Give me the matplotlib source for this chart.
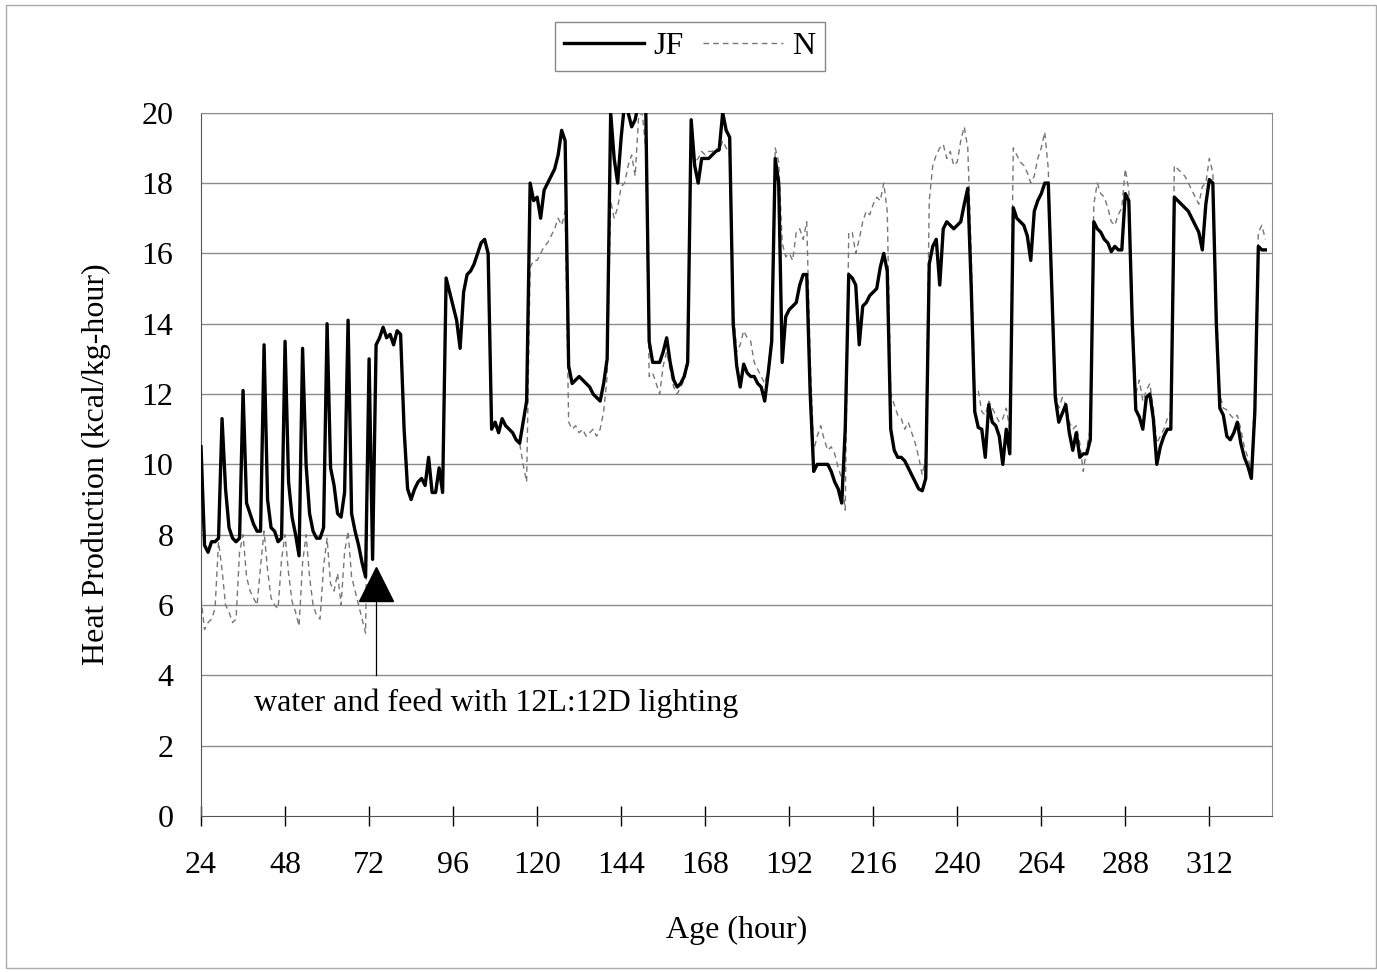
import numpy as np
import matplotlib.pyplot as plt
from matplotlib.patches import Rectangle

plt.rcParams['font.family'] = ['Liberation Serif', 'DejaVu Serif']

# hourly readings, age 24 h .. 328 h
hours = np.arange(24, 329)

jf = [10.5, 7.7, 7.5, 7.8, 7.8, 7.9, 11.3, 9.3, 8.2, 7.9, 7.8, 7.9,
      12.1, 8.9, 8.6, 8.3, 8.1, 8.1, 13.4, 9.0, 8.2, 8.1, 7.8, 7.9,
      13.5, 9.5, 8.5, 8.0, 7.4, 13.3, 10.0, 8.6, 8.1, 7.9, 7.9, 8.2,
      14.0, 9.9, 9.4, 8.6, 8.5, 9.2, 14.1, 8.6, 8.1, 7.7, 7.2, 6.8,
      13.0, 7.3, 13.4, 13.6, 13.9, 13.6, 13.7, 13.4, 13.8, 13.7, 11.0, 9.3,
      9.0, 9.3, 9.5, 9.6, 9.4, 10.2, 9.2, 9.2, 9.9, 9.2, 15.3, 14.9,
      14.5, 14.1, 13.3, 14.9, 15.4, 15.5, 15.7, 16.0, 16.3, 16.4, 16.0, 11.0,
      11.2, 10.9, 11.3, 11.1, 11.0, 10.9, 10.7, 10.6, 11.2, 11.8, 18.0, 17.5,
      17.6, 17.0, 17.8, 18.0, 18.2, 18.4, 18.8, 19.5, 19.2, 12.8, 12.3, 12.4,
      12.5, 12.4, 12.3, 12.2, 12.0, 11.9, 11.8, 12.3, 13.0, 20.0, 18.7, 18.0,
      19.3, 20.3, 20.0, 19.6, 19.8, 20.3, 20.3, 20.3, 13.5, 12.9, 12.9, 12.9,
      13.2, 13.6, 12.9, 12.4, 12.2, 12.3, 12.5, 12.9, 19.8, 18.5, 18.0, 18.7,
      18.7, 18.7, 18.8, 18.9, 18.95, 20.0, 19.5, 19.3, 14.0, 12.8, 12.2, 12.85,
      12.6, 12.5, 12.5, 12.3, 12.2, 11.8, 12.6, 13.5, 18.7, 18.0, 12.9, 14.2,
      14.4, 14.5, 14.6, 15.1, 15.4, 15.4, 12.0, 9.8, 10.0, 10.0, 10.0, 10.0,
      9.8, 9.5, 9.3, 8.9, 11.0, 15.4, 15.3, 15.1, 13.4, 14.5, 14.6, 14.8,
      14.9, 15.0, 15.6, 16.0, 15.5, 11.0, 10.4, 10.2, 10.2, 10.1, 9.9, 9.7,
      9.5, 9.3, 9.25, 9.6, 15.7, 16.2, 16.4, 15.1, 16.7, 16.9, 16.8, 16.7,
      16.8, 16.9, 17.4, 17.85, 15.0, 11.5, 11.05, 11.0, 10.2, 11.7, 11.2, 11.1,
      10.8, 10.0, 11.0, 10.3, 17.3, 17.0, 16.9, 16.8, 16.5, 15.8, 17.2, 17.5,
      17.7, 18.0, 18.0, 15.0, 11.9, 11.2, 11.45, 11.7, 10.9, 10.4, 10.9, 10.2,
      10.3, 10.3, 10.7, 16.9, 16.7, 16.6, 16.4, 16.3, 16.05, 16.2, 16.1, 16.1,
      17.7, 17.5, 14.0, 11.55, 11.35, 11.0, 11.9, 12.0, 11.3, 10.0, 10.5, 10.8,
      11.0, 11.0, 17.6, 17.5, 17.4, 17.3, 17.2, 17.0, 16.8, 16.6, 16.1, 17.4,
      18.1, 18.0, 14.0, 11.6, 11.4, 10.8, 10.7, 10.9, 11.2, 10.6, 10.2, 9.95,
      9.6, 11.5, 16.2, 16.1, 16.1]

n = [6.2, 5.3, 5.5, 5.6, 5.9, 7.8, 7.0, 6.0, 5.8, 5.5, 5.6, 7.5,
     8.0, 6.8, 6.4, 6.2, 6.0, 7.1, 8.1, 7.0, 6.2, 6.0, 5.9, 7.3,
     8.0, 6.9, 6.1, 5.8, 5.4, 7.2, 8.0, 6.8, 6.0, 5.7, 5.6, 7.1,
     7.9, 6.6, 6.4, 6.9, 6.0, 7.5, 8.1, 6.8, 6.4, 6.0, 5.6, 5.2,
     13.0, 7.3, 13.4, 13.6, 13.9, 13.6, 13.7, 13.4, 13.8, 13.7, 11.0, 9.3,
     9.0, 9.3, 9.5, 9.6, 9.4, 10.2, 9.2, 9.2, 9.9, 9.2, 15.3, 14.9,
     14.5, 14.1, 13.3, 14.9, 15.4, 15.5, 15.7, 16.0, 16.3, 16.4, 16.0, 11.0,
     11.2, 10.9, 11.3, 11.1, 11.0, 10.9, 10.7, 10.6, 10.0, 9.5, 15.6, 15.8,
     15.8, 16.0, 16.2, 16.3, 16.5, 16.7, 17.0, 16.8, 17.2, 11.2, 11.0, 11.1,
     10.9, 11.0, 10.8, 10.9, 11.0, 10.8, 11.0, 11.5, 12.5, 17.5, 17.0, 17.3,
     17.9, 18.0, 18.5, 18.8, 18.2, 19.9, 20.0, 19.0, 12.5, 12.6, 12.3, 12.0,
     12.8, 13.2, 12.7, 12.2, 12.0, 12.2, 12.4, 12.8, 19.5, 18.6, 18.7, 18.9,
     18.8, 18.9, 18.9, 19.0, 18.9, 19.2, 19.0, 18.8, 14.5, 13.2, 13.4, 13.8,
     13.6, 13.5, 12.9, 12.7, 12.5, 12.3, 12.7, 13.8, 19.0, 18.6, 16.3, 15.9,
     16.0, 15.8, 16.6, 16.7, 16.4, 16.9, 13.0, 10.4, 10.8, 11.1, 10.7, 10.4,
     10.5, 10.3, 9.9, 9.6, 8.7, 16.6, 16.6, 16.0, 16.4, 16.9, 17.2, 17.1,
     17.4, 17.6, 17.5, 18.0, 17.2, 12.0, 11.7, 11.4, 11.3, 11.0, 11.2, 10.9,
     10.6, 10.2, 9.7, 10.2, 17.5, 18.5, 18.8, 19.0, 19.1, 18.7, 18.9, 18.5,
     18.6, 19.2, 19.6, 19.0, 16.0, 12.0, 12.1, 11.5, 11.4, 11.8, 11.6, 11.4,
     11.2, 11.3, 11.6, 11.0, 19.0, 18.8, 18.6, 18.5, 18.3, 18.0, 18.2, 18.7,
     19.0, 19.45, 18.4, 15.5, 12.1, 11.6, 11.9, 11.7, 11.2, 11.0, 11.1, 10.6,
     9.8, 10.5, 11.0, 17.4, 18.0, 17.7, 17.6, 17.3, 16.9, 16.8, 17.1, 17.3,
     18.4, 17.8, 14.5, 12.0, 12.4, 11.8, 12.1, 12.3, 11.6, 10.6, 10.8, 11.0,
     11.3, 11.5, 18.5, 18.4, 18.3, 18.2, 18.0, 17.8, 17.6, 17.4, 17.9, 18.0,
     18.7, 18.3, 14.5, 12.0, 11.6, 11.55, 11.4, 11.3, 11.4, 11.0, 10.5, 10.2,
     9.8, 12.0, 16.6, 16.8, 16.4]

xticks = [24, 48, 72, 96, 120, 144, 168, 192, 216, 240, 264, 288, 312]

fig = plt.figure(figsize=(13.77, 9.72), dpi=100)
ax = fig.add_axes([0.146, 0.1605, 0.778, 0.7235])

# outer chart border
fig.patches.append(Rectangle((0.004, 0.004), 0.995, 0.991, transform=fig.transFigure,
                             fill=False, edgecolor='#aaaaaa', lw=1))

for yv in range(2, 21, 2):
    ax.axhline(yv, color='#8c8c8c', lw=1, zorder=0)

ax.plot(hours, n, color='#777777', lw=1, ls=(0, (4, 3)), label='N', zorder=2)
ax.plot(hours, jf, color='black', lw=2.4, label='JF', zorder=3)

# feeding start marker
ax.plot([74, 74], [4, 6.3], color='black', lw=0.9, zorder=3)
ax.plot(74, 6.6, marker='^', color='black', markersize=24, zorder=4)
ax.text(39, 3.2, 'water and feed with 12L:12D lighting', fontsize=23,
        va='center', ha='left')

ax.set_xlim(24, 330)
ax.set_ylim(0, 20)
ax.set_xticks(xticks)
ax.set_yticks(range(0, 21, 2))
ax.tick_params(axis='x', direction='inout', length=14, width=1, labelsize=23, pad=18)
ax.tick_params(axis='y', direction='out', length=0, labelsize=23, pad=20)
ax.set_xlabel('Age (hour)', fontsize=23, labelpad=26)
ax.set_ylabel('Heat Production (kcal/kg-hour)', fontsize=23, labelpad=22)

for side in ['top', 'right']:
    ax.spines[side].set_color('#8c8c8c')
ax.spines['left'].set_color('#555555')
ax.spines['bottom'].set_color('#555555')

h, l = ax.get_legend_handles_labels()
fig.legend(h[::-1], l[::-1], ncol=2, loc='center', bbox_to_anchor=(0.501, 0.952),
           fontsize=23, frameon=True, fancybox=False, edgecolor='#888888',
           handlelength=2.5, columnspacing=0.6, handletextpad=0.3,
           borderpad=0.3, framealpha=1)

fig.savefig('out.png', dpi=100)
